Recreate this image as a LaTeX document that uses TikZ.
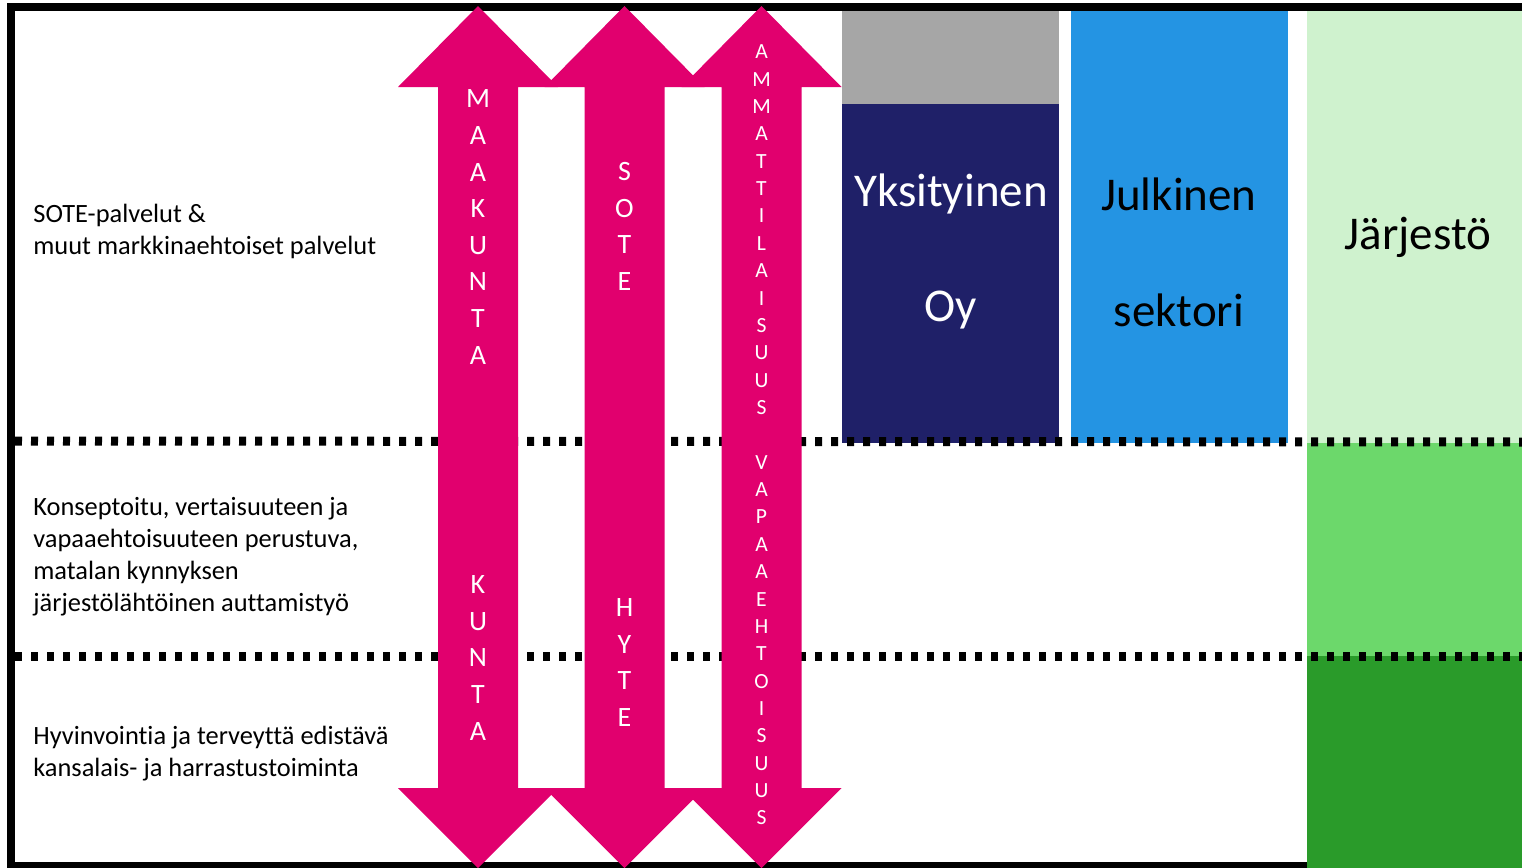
\documentclass[tikz,border=0pt]{standalone}
\usepackage{fontspec}
\setmainfont{Carlito}[Ligatures={NoCommon,NoRare,NoContextual}]
\usepackage{xcolor}
\usepackage{tikz}
\usetikzlibrary{positioning}

\definecolor{arrowpink}{RGB}{225,0,110}
\definecolor{oynavy}{RGB}{31,32,104}
\definecolor{oygray}{RGB}{166,166,166}
\definecolor{publicblue}{RGB}{36,148,227}
\definecolor{lightgreen}{RGB}{207,242,206}
\definecolor{midgreen}{RGB}{108,216,107}
\definecolor{darkgreen}{RGB}{42,155,42}

\begin{document}
\begin{tikzpicture}[x=0.5pt,y=-0.5pt,
    rowlabel/.style={align=left,anchor=west,inner sep=0pt,font=\fontsize{13.2}{16}\selectfont},
    bigletters/.style={align=center,inner sep=0pt,text=white,font=\fontsize{14}{18.3}\selectfont},
    smallletters/.style={align=center,inner sep=0pt,text=white,font=\fontsize{10.8}{13.68}\selectfont},
    boxtext/.style={inner sep=0pt,font=\fontsize{23.5}{28}\selectfont},
    dotline/.style={line width=4.5pt,dash pattern=on 3.5pt off 4.5pt}]
    \useasboundingbox (0,0) rectangle (1522,868);

    % frame
    \draw[line width=4pt] (1522,7) -- (11,7) -- (11,866) -- (1522,866);

    % sector blocks
    \fill[oygray] (842,11) rectangle (1059,104);
    \fill[oynavy] (842,104) rectangle (1059,443);
    \fill[publicblue] (1071,11) rectangle (1288,443);
    \fill[lightgreen] (1307,11) rectangle (1522,443);
    \fill[midgreen] (1307,443) rectangle (1522,656);
    \fill[darkgreen] (1307,656) rectangle (1522,868);

    % level separators
    \draw[dotline] (15,441) -- (1522,442);
    \draw[dotline] (15,656) -- (1522,656);

    % MAKUNTA / KUNTA
    \fill[arrowpink] (478,6) -- (558,87) -- (518,87) -- (518,788) -- (558,788) -- (478,868)
        -- (398,788) -- (438,788) -- (438,87) -- (398,87) -- cycle;
    % SOTE / HYTE
    \fill[arrowpink] (624.5,6) -- (704.5,87) -- (664.5,87) -- (664.5,788) -- (704.5,788) -- (624.5,868)
        -- (544.5,788) -- (584.5,788) -- (584.5,87) -- (544.5,87) -- cycle;
    % AMMATTILAISUUS / VAPAAEHTOISUUS
    \fill[arrowpink] (761.5,6) -- (841.5,87) -- (801.5,87) -- (801.5,788) -- (841.5,788) -- (761.5,868)
        -- (681.5,788) -- (721.5,788) -- (721.5,87) -- (681.5,87) -- cycle;

    \node[bigletters] (makunta) at (478,227) {M\\A\\A\\K\\U\\N\\T\\A};
    \node[bigletters] (kunta) at (478,658) {K\\U\\N\\T\\A};
    \node[bigletters] (sote) at (624.5,226.5) {S\\O\\T\\E};
    \node[bigletters] (hyte) at (624.5,662.5) {H\\Y\\T\\E};
    \node[smallletters] (ammattilaisuus) at (761.5,435)
        {A\\M\\M\\A\\T\\T\\I\\L\\A\\I\\S\\U\\U\\S\\~\\V\\A\\P\\A\\A\\E\\H\\T\\O\\I\\S\\U\\U\\S};

    % row labels
    \node[rowlabel] (sotepalvelut) at (33,231) {SOTE-palvelut \&\\muut markkinaehtoiset palvelut};
    \node[rowlabel] (konseptoitu) at (33,557) {Konseptoitu, vertaisuuteen ja\\vapaaehtoisuuteen perustuva,\\matalan kynnyksen\\järjestölähtöinen auttamistyö};
    \node[rowlabel] (hyvinvointi) at (33,754) {Hyvinvointia ja terveyttä edistävä\\kansalais- ja harrastustoiminta};

    % block texts
    \node[boxtext,text=white] (yksityinen) at (951,194) {Yksityinen};
    \node[boxtext,text=white] (oy) at (951,310) {Oy};
    \node[boxtext] (julkinen) at (1179,194) {Julkinen};
    \node[boxtext] (sektori) at (1179,310) {sektori};
    \node[boxtext] (jarjesto) at (1418,237) {Järjestö};
\end{tikzpicture}
\end{document}
